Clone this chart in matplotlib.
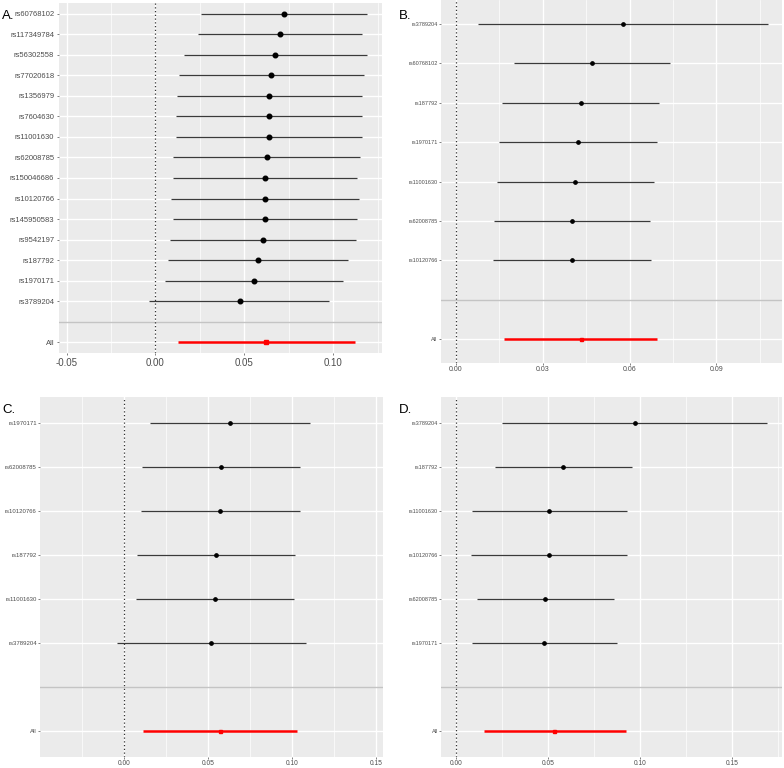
import numpy as np
import matplotlib
matplotlib.use('Agg')
import matplotlib.pyplot as plt
from matplotlib.ticker import MultipleLocator

plt.rcParams['font.family'] = ['Liberation Sans', 'DejaVu Sans']

# panel A - all SNPs
snps_a = ['rs60768102', 'rs117349784', 'rs56302558', 'rs77020618', 'rs1356979', 'rs7604630',
          'rs11001630', 'rs62008785', 'rs150046686', 'rs10120766', 'rs145950583', 'rs9542197',
          'rs187792', 'rs1970171', 'rs3789204']
est_a = [0.0722, 0.0701, 0.0675, 0.0652, 0.0641, 0.0639, 0.0639, 0.0626, 0.0617, 0.0617,
         0.0615, 0.0605, 0.0575, 0.0553, 0.0474]
lo_a = [0.0256, 0.0241, 0.0162, 0.0132, 0.0121, 0.0115, 0.0115, 0.0100, 0.0100, 0.0089,
        0.0097, 0.0083, 0.0070, 0.0052, -0.0037]
hi_a = [0.1189, 0.1163, 0.1189, 0.1174, 0.1163, 0.1163, 0.1163, 0.1153, 0.1135, 0.1144,
        0.1133, 0.1129, 0.1084, 0.1056, 0.0977]
all_a = [0.0624, 0.0127, 0.1123]

# panel B
snps_b = ['rs3789204', 'rs60768102', 'rs187792', 'rs1970171', 'rs11001630', 'rs62008785', 'rs10120766']
est_b = [0.0577, 0.0470, 0.0431, 0.0420, 0.0412, 0.0400, 0.0400]
lo_b = [0.0075, 0.0200, 0.0159, 0.0147, 0.0141, 0.0130, 0.0127]
hi_b = [0.1078, 0.0741, 0.0702, 0.0694, 0.0683, 0.0672, 0.0673]
all_b = [0.0431, 0.0165, 0.0695]

# panel C
snps_c = ['rs1970171', 'rs62008785', 'rs10120766', 'rs187792', 'rs11001630', 'rs3789204']
est_c = [0.0632, 0.0576, 0.0574, 0.0550, 0.0541, 0.0521]
lo_c = [0.0158, 0.0111, 0.0103, 0.0081, 0.0073, -0.0038]
hi_c = [0.1107, 0.1048, 0.1048, 0.1020, 0.1010, 0.1085]
all_c = [0.0570, 0.0113, 0.1030]

# panel D
snps_d = ['rs3789204', 'rs187792', 'rs11001630', 'rs10120766', 'rs62008785', 'rs1970171']
est_d = [0.0970, 0.0584, 0.0506, 0.0503, 0.0486, 0.0481]
lo_d = [0.0253, 0.0210, 0.0087, 0.0080, 0.0116, 0.0087]
hi_d = [0.1688, 0.0958, 0.0927, 0.0927, 0.0857, 0.0875]
all_d = [0.0533, 0.0150, 0.0922]


def forest(ax, snps, est, lo, hi, allv, xlim, major, ytsize, xtsize, msize, pad, tpad):
    n = len(snps)
    ypos = np.arange(n + 1, 1, -1)  # studies on top, then gap, then All at 0
    ax.set_facecolor('#EBEBEB')
    for s in ax.spines.values():
        s.set_visible(False)
    ax.set_xlim(xlim)
    ax.set_ylim(-pad, n + 1 + pad)
    ax.xaxis.set_major_locator(MultipleLocator(major))
    ax.xaxis.set_minor_locator(MultipleLocator(major / 2))
    ax.grid(which='major', axis='x', color='white', lw=1.0)
    ax.grid(which='minor', axis='x', color='white', lw=0.5)
    ax.grid(which='major', axis='y', color='white', lw=1.0)
    ax.set_axisbelow(True)
    ax.set_yticks(list(ypos) + [0])
    ax.set_yticklabels(snps + ['All'])
    ax.tick_params(axis='y', labelsize=ytsize, colors='#4D4D4D', length=1.5, width=0.5, pad=tpad)
    ax.tick_params(axis='x', labelsize=xtsize, colors='#4D4D4D', length=1.5, width=0.5, pad=tpad)
    ax.tick_params(which='minor', length=0)
    ax.axhline(1, color='#C4C4C4', lw=1.0)
    ax.axvline(0, color='#333333', lw=0.9, ls=(0, (1, 2)))
    ax.hlines(ypos, lo, hi, color='#3A3A3A', lw=0.9)
    ax.plot(est, ypos, 'o', color='black', ms=msize)
    ax.hlines(0, allv[1], allv[2], color='red', lw=1.8)
    ax.plot([allv[0]], [0], 's', color='red', ms=msize * 0.9)
    ax.xaxis.set_major_formatter(matplotlib.ticker.FormatStrFormatter('%.2f'))


W, H = 784, 768
fig = plt.figure(figsize=(W / 100, H / 100), dpi=100)


def add_ax(l, r, t, b):
    return fig.add_axes([l / W, 1 - b / H, (r - l) / W, (b - t) / H])


axA = add_ax(59, 382, 3, 353)
forest(axA, snps_a, est_a, lo_a, hi_a, all_a, (-0.0543, 0.1275), 0.05, 5.5, 7, 3.3, 0.535, 2)
axB = add_ax(441, 782, 0, 363)
forest(axB, snps_b, est_b, lo_b, hi_b, all_b, (-0.0052, 0.1127), 0.03, 4, 5, 2.4, 0.6, 1)
axC = add_ax(40, 383, 397, 757)
forest(axC, snps_c, est_c, lo_c, hi_c, all_c, (-0.0497, 0.154), 0.05, 4.3, 4.8, 2.4, 0.6, 0.8)
axD = add_ax(441, 782, 397, 757)
forest(axD, snps_d, est_d, lo_d, hi_d, all_d, (-0.0081, 0.1771), 0.05, 4, 4.8, 2.4, 0.6, 0.8)

for lab, x, y in [('A.', 2, 19), ('B.', 399, 19), ('C.', 2, 413), ('D.', 399, 413)]:
    fig.text(x / W, 1 - y / H, lab, fontsize=9.5, color='black', ha='left', va='baseline')

fig.savefig('out.png', dpi=100)
